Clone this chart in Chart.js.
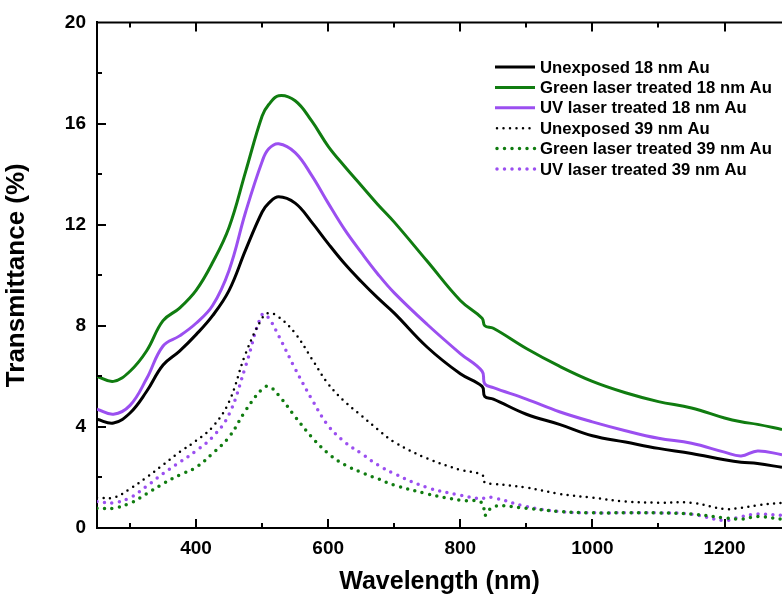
<!DOCTYPE html>
<html>
<head>
<meta charset="utf-8">
<script src="https://cdn.jsdelivr.net/npm/chart.js@4.4.1/dist/chart.umd.min.js"></script>
<style>
  html, body { margin: 0; padding: 0; background: #fff; }
  canvas { display: block; }
</style>
</head>
<body>
<canvas id="chart" width="782" height="599"></canvas>
<script>
// Wavelengths (nm) shared by every series
const wavelengths = [250, 275, 300, 325, 350, 375, 400, 425, 450, 475, 500, 510, 525, 550, 575, 600, 625, 650, 675, 700, 750, 800, 833, 837, 850, 900, 950, 1000, 1050, 1100, 1150, 1200, 1225, 1250, 1287];

// Transmittance (%)
const unexposed18 = [4.3, 4.15, 4.55, 5.4, 6.45, 7.0, 7.65, 8.4, 9.4, 11.0, 12.5, 12.85, 13.1, 12.85, 12.1, 11.25, 10.45, 9.75, 9.1, 8.5, 7.15, 6.1, 5.6, 5.2, 5.1, 4.5, 4.1, 3.65, 3.4, 3.15, 2.95, 2.7, 2.6, 2.55, 2.4];
const green18 = [6.0, 5.8, 6.2, 7.0, 8.2, 8.7, 9.4, 10.5, 11.9, 14.1, 16.3, 16.75, 17.1, 16.9, 16.1, 15.1, 14.3, 13.55, 12.8, 12.1, 10.55, 9.0, 8.3, 8.0, 7.9, 7.1, 6.4, 5.8, 5.35, 5.0, 4.75, 4.35, 4.2, 4.1, 3.9];
const uv18 = [4.7, 4.5, 4.85, 5.9, 7.2, 7.6, 8.1, 8.8, 10.2, 12.5, 14.5, 15.0, 15.2, 14.85, 13.95, 12.85, 11.8, 10.9, 10.05, 9.3, 8.05, 6.9, 6.2, 5.7, 5.55, 5.1, 4.6, 4.2, 3.85, 3.55, 3.35, 3.0, 2.85, 3.05, 2.9];
const unexposed39 = [1.2, 1.2, 1.55, 2.0, 2.5, 3.0, 3.45, 4.0, 5.0, 6.9, 8.3, 8.5, 8.35, 7.7, 6.7, 5.7, 5.0, 4.45, 3.9, 3.4, 2.75, 2.3, 2.1, 1.8, 1.75, 1.6, 1.35, 1.2, 1.05, 1.0, 1.0, 0.75, 0.8, 0.9, 1.0];
const green39 = [0.78, 0.78, 0.98, 1.35, 1.75, 2.1, 2.4, 2.95, 3.6, 4.65, 5.5, 5.6, 5.25, 4.4, 3.6, 2.95, 2.5, 2.2, 1.95, 1.7, 1.35, 1.1, 1.0, 0.5, 0.85, 0.78, 0.65, 0.6, 0.6, 0.6, 0.55, 0.4, 0.35, 0.45, 0.35];
const uv39 = [1.05, 1.0, 1.2, 1.65, 2.15, 2.6, 3.05, 3.6, 4.5, 6.4, 8.45, 8.3, 7.6, 6.3, 5.1, 4.05, 3.4, 2.95, 2.5, 2.15, 1.6, 1.3, 1.15, 1.2, 1.2, 0.85, 0.65, 0.6, 0.6, 0.6, 0.55, 0.3, 0.45, 0.55, 0.5];

// Tick labels
const xTicks = [400, 600, 800, 1000, 1200];
const yTicks = [0, 4, 8, 12, 16, 20];

const GREEN = '#107c10';
const PURPLE = '#9b4ff0';
const BLACK = '#000000';
const FONT = "'Liberation Sans', Arial, sans-serif";

function points(values) {
  return wavelengths.map((w, i) => ({ x: w, y: values[i] }));
}

function solid(label, values, color) {
  return {
    label: label,
    data: points(values),
    borderColor: color,
    borderWidth: 3,
    pointRadius: 0,
    tension: 0.4,
    fill: false
  };
}

function dotted(label, values, color, width, gap) {
  return {
    label: label,
    data: points(values),
    borderColor: color,
    borderWidth: width,
    borderDash: [0, gap],
    borderCapStyle: 'round',
    pointRadius: 0,
    tension: 0.4,
    fill: false
  };
}

// Inward ticks, top frame line and the legend
const framePlugin = {
  id: 'frame',
  afterDraw(chart) {
    const { ctx, chartArea: a, scales: { x, y } } = chart;
    ctx.save();
    ctx.strokeStyle = '#000';
    ctx.lineWidth = 2;
    ctx.beginPath();
    ctx.moveTo(a.left - 1, a.top);
    ctx.lineTo(a.right, a.top);
    ctx.stroke();

    ctx.beginPath();
    for (let v = 300; v <= x.max; v += 100) {
      const px = Math.round(x.getPixelForValue(v));
      const len = v % 200 === 0 ? 9 : 5;
      ctx.moveTo(px, a.bottom);
      ctx.lineTo(px, a.bottom - len);
      ctx.moveTo(px, a.top);
      ctx.lineTo(px, a.top + len);
    }
    for (let v = 2; v < 20; v += 2) {
      const py = Math.round(y.getPixelForValue(v));
      const len = v % 4 === 0 ? 9 : 5;
      ctx.moveTo(a.left, py);
      ctx.lineTo(a.left + len, py);
    }
    ctx.stroke();

    // legend
    const lx = 495, ly = 67, rowH = 20.4;
    ctx.font = 'bold 16.7px ' + FONT;
    ctx.textBaseline = 'middle';
    chart.data.datasets.forEach((ds, i) => {
      const yy = ly + i * rowH;
      ctx.strokeStyle = ds.borderColor;
      ctx.lineWidth = ds.borderWidth;
      ctx.lineCap = ds.borderCapStyle || 'butt';
      ctx.setLineDash(ds.borderDash || []);
      ctx.beginPath();
      ctx.moveTo(lx + (ds.borderDash ? 2 : 0), yy);
      ctx.lineTo(lx + 40, yy);
      ctx.stroke();
      ctx.setLineDash([]);
      ctx.fillStyle = '#000';
      ctx.fillText(ds.label, lx + 45, yy + 1);
    });
    ctx.restore();
  }
};

const ctx = document.getElementById('chart').getContext('2d');
new Chart(ctx, {
  type: 'line',
  data: {
    datasets: [
      solid('Unexposed 18 nm Au', unexposed18, BLACK),
      solid('Green laser treated 18 nm Au', green18, GREEN),
      solid('UV laser treated 18 nm Au', uv18, PURPLE),
      dotted('Unexposed 39 nm Au', unexposed39, BLACK, 2.5, 6.5),
      dotted('Green laser treated 39 nm Au', green39, GREEN, 3.5, 7.5),
      dotted('UV laser treated 39 nm Au', uv39, PURPLE, 3.5, 7.5)
    ]
  },
  options: {
    responsive: false,
    animation: false,
    layout: { padding: { top: 20, right: 0, left: 0, bottom: 0 } },
    plugins: {
      legend: { display: false },
      tooltip: { enabled: false }
    },
    scales: {
      x: {
        type: 'linear',
        min: 250,
        max: 1287,
        afterBuildTicks: s => { s.ticks = xTicks.map(v => ({ value: v })); },
        afterFit: s => { s.height = 71; },
        grid: { display: false, drawTicks: false },
        border: { display: true, color: '#000', width: 2 },
        ticks: {
          color: '#000',
          padding: 9,
          maxRotation: 0,
          callback: v => String(v),
          font: { family: FONT, size: 19, weight: 'bold' }
        },
        title: {
          display: true,
          text: 'Wavelength (nm)',
          color: '#000',
          padding: { top: 0, bottom: 2 },
          font: { family: FONT, size: 25, weight: 'bold' }
        }
      },
      y: {
        min: 0,
        max: 20,
        afterBuildTicks: s => { s.ticks = yTicks.map(v => ({ value: v })); },
        afterFit: s => { s.width = 97; },
        grid: { display: false, drawTicks: false },
        border: { display: true, color: '#000', width: 2 },
        ticks: {
          color: '#000',
          padding: 11,
          font: { family: FONT, size: 19, weight: 'bold' }
        },
        title: {
          display: true,
          text: 'Transmittance (%)',
          color: '#000',
          padding: { top: 1, bottom: 0 },
          font: { family: FONT, size: 26, weight: 'bold' }
        }
      }
    }
  },
  plugins: [framePlugin]
});
</script>
</body>
</html>
